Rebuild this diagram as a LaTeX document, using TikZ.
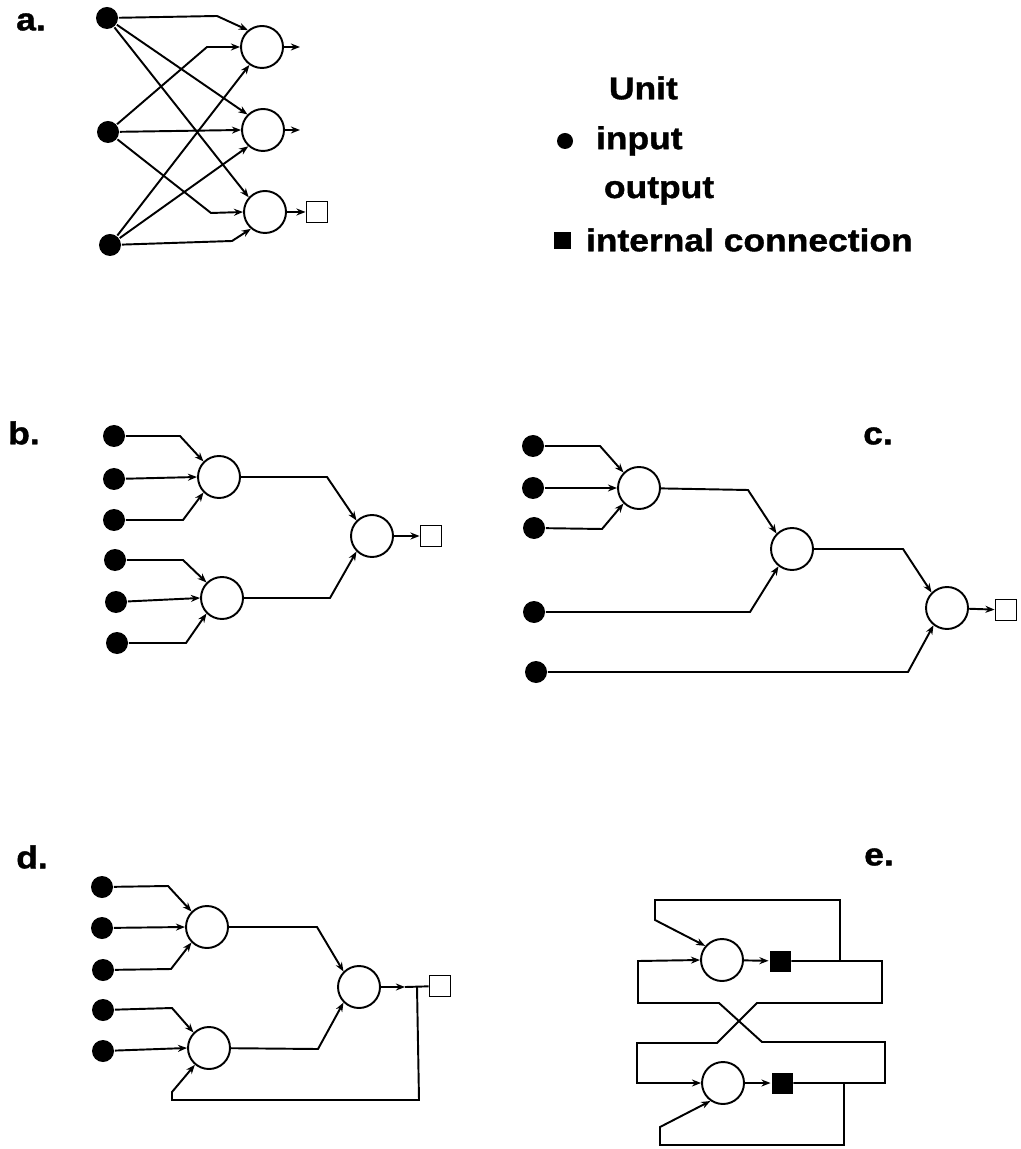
\documentclass[tikz,border=0pt]{standalone}
\usepackage{fontspec}
\newfontfamily\figfont{Liberation Sans}[FakeStretch=1.12,FakeBold=1.2]
\usetikzlibrary{positioning,arrows.meta}

\tikzset{
  input/.style={circle,fill,inner sep=0pt,minimum size=2.2mm},
  unit/.style={circle,draw,inner sep=0pt,minimum size=4.2mm},
  outbox/.style={rectangle,draw,inner sep=0pt,minimum size=2.1mm},
  connbox/.style={rectangle,fill,inner sep=0pt,minimum size=2.1mm},
  panel/.style={font=\figfont\bfseries\fontsize{9}{11}\selectfont,inner sep=0pt},
  legend/.style={panel,anchor=west}
}

\begin{document}
\begin{tikzpicture}[x=0.1mm,y=-0.1mm,line width=0.55pt,>={Stealth[length=2.6pt,width=2pt]}]
    \useasboundingbox (0,0) rectangle (1020,1149);

    % a.
    \node[panel] (la) at (31,22) {a.};
    \node[input] (a1) at (107,18)  {};
    \node[input] (a2) at (108,132) {};
    \node[input] (a3) at (110,245) {};
    \node[unit]  (au1) at (262,47)  {};
    \node[unit]  (au2) at (263,130) {};
    \node[unit]  (au3) at (265,212) {};
    \coordinate (ao1) at (300,47);
    \coordinate (ao2) at (300,130);
    \node[outbox] (asq) at (317,212) {};
    \draw[->] (a1) -- (217,16) -- (au1.130);
    \draw[->] (a2) -- (207,47) -- (au1.west);
    \draw[->] (a3) -- (au1.235);
    \draw[->] (a1) -- (au2.135);
    \draw[->] (a2) -- (au2.west);
    \draw[->] (a3) -- (au2.228);
    \draw[->] (a1) -- (au3.138);
    \draw[->] (a2) -- (211,213) -- (au3.west);
    \draw[->] (a3) -- (232,241) -- (au3.230);
    \draw[->] (au1) -- (ao1);
    \draw[->] (au2) -- (ao2);
    \draw[->] (au3) -- (asq);

    % legend
    \node[legend] (lunit) at (608,88)  {Unit};
    \node[input,minimum size=1.6mm] (ldot) at (565,141) {};
    \node[legend] (linput) at (595,141) {input};
    \node[legend] (loutput) at (603,191) {output};
    \node[connbox,minimum size=1.7mm] (lsq) at (562,241) {};
    \node[legend] (lconn) at (585,240) {internal connection};

    % b.
    \node[panel] (lb) at (24,433) {b.};
    \node[input] (b1) at (114,436) {};
    \node[input] (b2) at (114,479) {};
    \node[input] (b3) at (114,520) {};
    \node[input] (b4) at (115,560) {};
    \node[input] (b5) at (116,602) {};
    \node[input] (b6) at (117,643) {};
    \node[unit]  (bu1) at (219,477) {};
    \node[unit]  (bu2) at (222,598) {};
    \node[unit]  (bu3) at (372,536) {};
    \node[outbox] (bsq) at (431,536) {};
    \draw[->] (b1) -- (180,436) -- (bu1.135);
    \draw[->] (b2) -- (bu1.west);
    \draw[->] (b3) -- (183,520) -- (bu1.225);
    \draw[->] (b4) -- (183,560) -- (bu2.135);
    \draw[->] (b5) -- (bu2.west);
    \draw[->] (b6) -- (186,643) -- (bu2.225);
    \draw[->] (bu1) -- (327,477) -- (bu3.135);
    \draw[->] (bu2) -- (330,598) -- (bu3.225);
    \draw[->] (bu3) -- (bsq);

    % c.
    \node[panel] (lc) at (878,436) {c.};
    \node[input] (c1) at (533,446) {};
    \node[input] (c2) at (533,488) {};
    \node[input] (c3) at (534,528) {};
    \node[input] (c4) at (534,612) {};
    \node[input] (c5) at (536,672) {};
    \node[unit]  (cu1) at (639,488) {};
    \node[unit]  (cu2) at (792,549) {};
    \node[unit]  (cu3) at (947,608) {};
    \node[outbox] (csq) at (1006,610) {};
    \draw[->] (c1) -- (600,446) -- (cu1.135);
    \draw[->] (c2) -- (cu1.west);
    \draw[->] (c3) -- (602,529) -- (cu1.225);
    \draw[->] (cu1) -- (748,490) -- (cu2.135);
    \draw[->] (c4) -- (750,612) -- (cu2.232);
    \draw[->] (cu2) -- (903,549) -- (cu3.135);
    \draw[->] (c5) -- (908,672) -- (cu3.232);
    \draw[->] (cu3) -- (csq);

    % d.
    \node[panel] (ld) at (32,857) {d.};
    \node[input] (d1) at (102,887)  {};
    \node[input] (d2) at (102,928)  {};
    \node[input] (d3) at (103,970)  {};
    \node[input] (d4) at (103,1010) {};
    \node[input] (d5) at (103,1051) {};
    \node[unit]  (du1) at (207,927)  {};
    \node[unit]  (du2) at (209,1048) {};
    \node[unit]  (du3) at (359,987)  {};
    \node[outbox] (dsq) at (440,986) {};
    \coordinate (ddot) at (405,987);
    \coordinate (djn) at (417,987);
    \draw[->] (d1) -- (168,886) -- (du1.135);
    \draw[->] (d2) -- (du1.west);
    \draw[->] (d3) -- (171,969) -- (du1.225);
    \draw[->] (d4) -- (172,1008) -- (du2.135);
    \draw[->] (d5) -- (du2.west);
    \draw[->] (du1) -- (317,927) -- (du3.135);
    \draw[->] (du2) -- (318,1049) -- (du3.225);
    \draw[->] (du3) -- (ddot);
    \draw (ddot) -- (dsq);
    \draw[->] (djn) -- (419,1100) -- (172,1100) -- (172,1092) -- (du2.230);

    % e.
    \node[panel] (le) at (879,857) {e.};
    \node[unit]  (eu1) at (722,960)  {};
    \node[connbox] (esq1) at (780,961) {};
    \node[unit]  (eu2) at (723,1083) {};
    \node[connbox] (esq2) at (782,1083) {};
    \coordinate (ejn1) at (840,961);
    \coordinate (ejn2) at (844,1083);
    \draw[->] (eu1) -- (esq1);
    \draw[->] (eu2) -- (esq2);
    \draw[->] (esq1) -- (882,961) -- (882,1003) -- (757,1003) -- (717,1043)
        -- (637,1043) -- (637,1083) -- (eu2.west);
    \draw[->] (esq2) -- (885,1083) -- (885,1042) -- (762,1042) -- (719,1003)
        -- (638,1003) -- (638,961) -- (eu1.west);
    \draw[->] (ejn1) -- (840,900) -- (655,900) -- (655,920) -- (eu1.140);
    \draw[->] (ejn2) -- (844,1145) -- (660,1145) -- (660,1127) -- (eu2.235);
\end{tikzpicture}
\end{document}
